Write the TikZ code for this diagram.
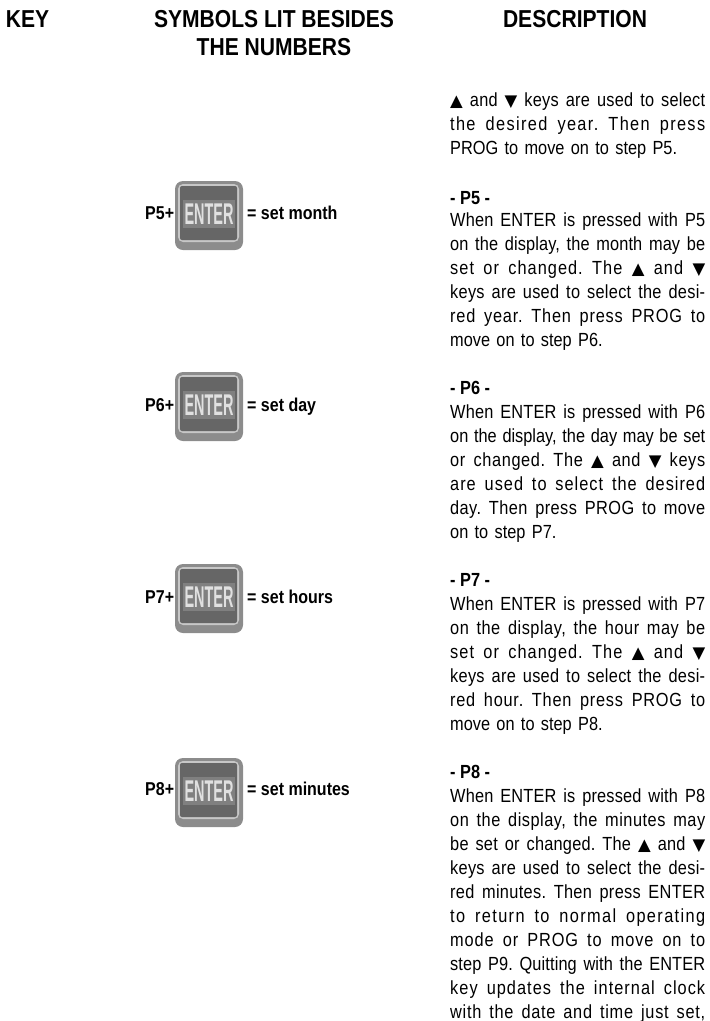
\documentclass[tikz,border=0pt]{standalone}
\usepackage{fontspec}
\setmainfont[FakeStretch=0.86]{Liberation Sans}
\newfontfamily\symfont{DejaVu Sans}
\usetikzlibrary{positioning}
\frenchspacing
\definecolor{keyrim}{gray}{0.55}
\definecolor{keyedge}{gray}{0.78}
\definecolor{keyface}{gray}{0.40}
\definecolor{keyband}{gray}{0.50}
\definecolor{keytext}{gray}{0.88}
\newcommand{\up}{{\symfont\fontsize{16.5}{24}\selectfont ▲}}
\newcommand{\down}{{\symfont\fontsize{16.5}{24}\selectfont ▼}}
\newlength{\jlwidth}
\newcommand{\jlbox}[1]{\settowidth{\jlwidth}{#1}%
  \pgfmathsetmacro{\jlspace}{max(0,95*(255-\jlwidth)/(\jlwidth/7.4)/19)}%
  \makebox[255pt][s]{\addfontfeature{LetterSpace=\jlspace}\spaceskip=4.5pt plus 1fil minus 1fil\relax #1}}
\newcommand{\jl}[1]{\jlbox{#1}\\}
\tikzset{
  heading/.style={inner sep=0pt, align=center, font=\bfseries\fontsize{24.5}{28}\selectfont},
  symbol/.style={inner sep=0pt, anchor=base west, font=\bfseries\fontsize{18.6}{20}\selectfont},
  body/.style={inner sep=0pt, anchor=north west, text width=255pt, font=\fontsize{19}{24}\selectfont},
  steptitle/.style={inner sep=0pt, anchor=north west, font=\bfseries\fontsize{19}{24}\selectfont},
  pics/enterkey/.style={code={
    \fill[keyrim, rounded corners=8pt] (0,0) rectangle (68,69);
    \fill[keyedge, rounded corners=5pt] (3,3) rectangle (64,61);
    \fill[keyface, rounded corners=2pt] (5,5) rectangle (62,59);
    \fill[keyband] (8,19) rectangle (60,47);
    \node[inner sep=0pt, text=keytext, xscale=0.56, font=\bfseries\fontsize{30}{30}\selectfont] at (34,33) {ENTER};
  }}
}
\begin{document}
\begin{tikzpicture}[x=1pt, y=-1pt]
\useasboundingbox (0,0) rectangle (710,1021);
\node[heading] (key) at (27.5,19) {KEY};
\node[heading] (symbols) at (274,33) {SYMBOLS LIT BESIDES\\THE NUMBERS};
\node[heading] (description) at (575,19) {DESCRIPTION};

\node[body] (year) at (450,93) {\jl{\up{} and \down{} keys are used to select}\jl{the desired year. Then press}PROG to move on to step P5.};

\path (175,181) pic {enterkey};
\node[symbol] (p5) at (145,219.6) {P5+};
\node[symbol] (month) at (247,219.6) {= set month};
\node[steptitle] (titlefive) at (450,191) {- P5 -};
\node[body] (five) at (450,213) {\jl{When ENTER is pressed with P5}\jl{on the display, the month may be}\jl{set or changed. The \up{} and \down}\jl{keys are used to select the desi-}\jl{red year. Then press PROG to}move on to step P6.};

\path (175,372) pic {enterkey};
\node[symbol] (p6) at (145,411.6) {P6+};
\node[symbol] (day) at (247,411.6) {= set day};
\node[steptitle] (titlesix) at (450,381) {- P6 -};
\node[body] (six) at (450,405) {\jl{When ENTER is pressed with P6}\jl{on the display, the day may be set}\jl{or changed. The \up{} and \down{} keys}\jl{are used to select the desired}\jl{day. Then press PROG to move}on to step P7.};

\path (175,564) pic {enterkey};
\node[symbol] (p7) at (145,603.6) {P7+};
\node[symbol] (hours) at (247,603.6) {= set hours};
\node[steptitle] (titleseven) at (450,573) {- P7 -};
\node[body] (seven) at (450,597) {\jl{When ENTER is pressed with P7}\jl{on the display, the hour may be}\jl{set or changed. The \up{} and \down}\jl{keys are used to select the desi-}\jl{red hour. Then press PROG to}move on to step P8.};

\path (175,758) pic {enterkey};
\node[symbol] (p8) at (145,795.6) {P8+};
\node[symbol] (minutes) at (247,795.6) {= set minutes};
\node[steptitle] (titleeight) at (450,765) {- P8 -};
\node[body] (eight) at (450,789) {\jl{When ENTER is pressed with P8}\jl{on the display, the minutes may}\jl{be set or changed. The \up{} and \down}\jl{keys are used to select the desi-}\jl{red minutes. Then press ENTER}\jl{to return to normal operating}\jl{mode or PROG to move on to}\jl{step P9. Quitting with the ENTER}\jl{key updates the internal clock}\jlbox{with the date and time just set,}};
\end{tikzpicture}
\end{document}
